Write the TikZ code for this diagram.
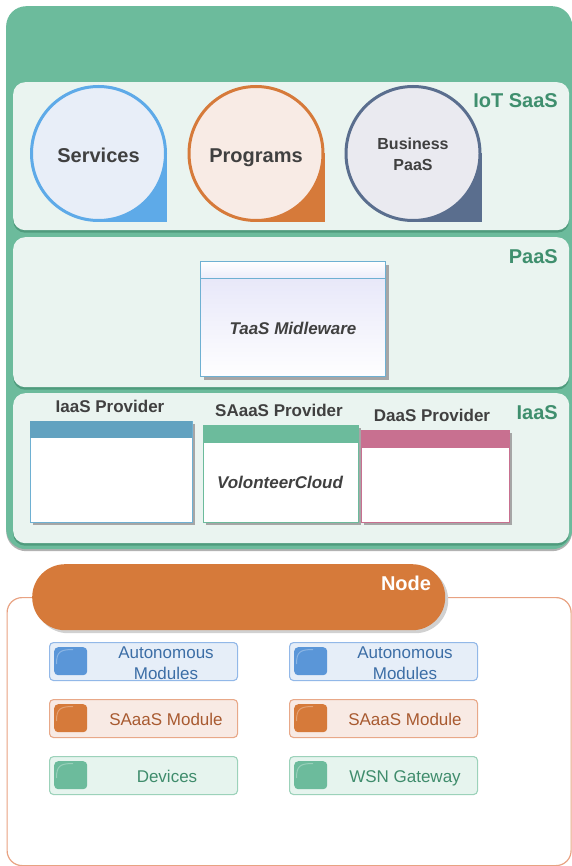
\documentclass[tikz,border=0pt]{standalone}
\usepackage{fontspec}
\setmainfont{Liberation Sans}
\usetikzlibrary{shadows}
\definecolor{outergreen}{HTML}{6CBB9C}
\definecolor{panelfill}{HTML}{EAF4F0}
\definecolor{panelshadow}{HTML}{4F9B7D}
\definecolor{labelgreen}{HTML}{3F8F6E}
\definecolor{darktext}{HTML}{404040}
\definecolor{svcfill}{HTML}{E8EEF8}
\definecolor{svcline}{HTML}{5EAAE8}
\definecolor{prgfill}{HTML}{F8EBE5}
\definecolor{prgline}{HTML}{D67A3A}
\definecolor{busfill}{HTML}{EAEAF0}
\definecolor{busline}{HTML}{5A6E8E}
\definecolor{taasline}{HTML}{6EB0D2}
\definecolor{taastop}{HTML}{E4E4F8}
\definecolor{iaashead}{HTML}{62A2C0}
\definecolor{daashead}{HTML}{C87090}
\definecolor{nodeorange}{HTML}{D67A3A}
\definecolor{nodeline}{HTML}{E8A282}
\definecolor{mbfill}{HTML}{E6EEF8}
\definecolor{mbline}{HTML}{92B8E8}
\definecolor{mbsq}{HTML}{5A96D8}
\definecolor{mbtext}{HTML}{3C6EA6}
\definecolor{mofill}{HTML}{F8EAE4}
\definecolor{moline}{HTML}{E8A888}
\definecolor{mosq}{HTML}{D67A3A}
\definecolor{motext}{HTML}{A85A30}
\definecolor{mgfill}{HTML}{E6F4EE}
\definecolor{mgline}{HTML}{9CD2BA}
\definecolor{mgsq}{HTML}{6CBB9C}
\definecolor{mgtext}{HTML}{3F8C6C}
\begin{document}
\begin{tikzpicture}[x=1pt,y=-1pt,
  panel/.style={rectangle, fill=panelfill, rounded corners=12, minimum width=556,
    anchor=north west, inner sep=0,
    drop shadow={shadow xshift=0pt, shadow yshift=-2.5pt, fill=panelshadow, opacity=1}},
  layerlabel/.style={anchor=base east, inner sep=0, text=labelgreen,
    font=\fontsize{20}{24}\selectfont\bfseries},
  bubble/.style={circle, line width=3, minimum size=134, inner sep=0},
  bubbletext/.style={anchor=base, inner sep=0, text=darktext, font=\fontsize{20}{24}\selectfont\bfseries},
  smalltext/.style={anchor=base, inner sep=0, text=darktext, font=\fontsize{16}{20}\selectfont\bfseries},
  provbox/.style={rectangle, fill=white, line width=1.4, anchor=north west, inner sep=0,
    drop shadow={shadow xshift=2pt, shadow yshift=-2pt, fill=black!35, opacity=1}},
  provhead/.style={rectangle, anchor=north west, inner sep=0},
  provlabel/.style={anchor=base, inner sep=0, text=darktext, font=\fontsize{17}{20}\selectfont\bfseries},
  italiclabel/.style={anchor=base, inner sep=0, text=darktext, font=\fontsize{17}{20}\selectfont\bfseries\itshape},
  modbox/.style={rectangle, rounded corners=4, line width=1.1, minimum width=188,
    minimum height=38, anchor=north west, inner sep=0},
  modsq/.style={rectangle, rounded corners=4, minimum width=33, minimum height=28,
    anchor=north west, inner sep=0},
  modtext/.style={inner sep=0, align=center, font=\fontsize{17}{21}\selectfont},
  modline/.style={anchor=base, inner sep=0, font=\fontsize{17}{21}\selectfont},
  gloss/.style={white, opacity=.3, line width=1}
]
\useasboundingbox (0,0) rectangle (571,866);

% ---------- cloud stack ----------
\node[rectangle, fill=outergreen, rounded corners=20, minimum width=566, minimum height=543,
  anchor=north west, inner sep=0,
  drop shadow={shadow xshift=0pt, shadow yshift=-2pt, fill=black!30, opacity=1}] (cloud) at (6,6) {};

\node[panel, minimum height=148] (iot) at (13,82) {};
\node[panel, minimum height=150] (paas) at (13,237) {};
\node[panel, minimum height=150] (iaas) at (13,393) {};

\node[layerlabel] (iotlabel) at (558,107.2) {IoT SaaS};
\node[layerlabel] (paaslabel) at (558,263.2) {PaaS};
\node[layerlabel] (iaaslabel) at (558,419.2) {IaaS};

% bubbles with square corner
\coordinate (svc) at (98.5,153.5);
\coordinate (prg) at (256,153.5);
\coordinate (bus) at (413,153.5);
\fill[svcline] (svc) rectangle ++(68.5,69);
\fill[prgline] (prg) rectangle ++(68.5,69);
\fill[busline] (bus) rectangle ++(68.5,69);
\node[bubble, draw=svcline, fill=svcfill] (services) at (svc) {};
\node[bubble, draw=prgline, fill=prgfill] (programs) at (prg) {};
\node[bubble, draw=busline, fill=busfill] (business) at (bus) {};
\node[bubbletext] (servicestext) at (98.5,162.2) {Services};
\node[bubbletext] (programstext) at (256,162.2) {Programs};
\node[smalltext] (businesstext) at (413,149.7) {Business};
\node[smalltext] (paastext) at (413,170.7) {PaaS};

% TaaS middleware
\node[rectangle, draw=taasline, line width=1.2, top color=taastop, bottom color=white!97!taastop,
  minimum width=185, minimum height=115, anchor=north west, inner sep=0,
  drop shadow={shadow xshift=3pt, shadow yshift=-3pt, fill=black!35, opacity=1}] (taas) at (200,261) {};
\node[rectangle, draw=taasline, line width=1.2, top color=white, bottom color=taastop!70,
  minimum width=185, minimum height=17, anchor=north west, inner sep=0] (taashead) at (taas.north west) {};
\node[italiclabel] (taastext) at (293,334.1) {TaaS Midleware};

% providers
\node[provbox, draw=taasline, minimum width=162, minimum height=101] (iaasbox) at (30,421) {};
\node[provhead, fill=iaashead, minimum width=162, minimum height=17] (iaashd) at (iaasbox.north west) {};
\node[provlabel] (iaasprov) at (110,412.1) {IaaS Provider};

\node[provbox, draw=outergreen, minimum width=155, minimum height=97] (saasbox) at (203,425) {};
\node[provhead, fill=outergreen, minimum width=155, minimum height=18] (saashd) at (saasbox.north west) {};
\node[provlabel] (saasprov) at (279,416.1) {SAaaS Provider};
\node[italiclabel] (volcloud) at (280,488.1) {VolonteerCloud};

\node[provbox, draw=daashead, minimum width=148, minimum height=92] (daasbox) at (361,430) {};
\node[provhead, fill=daashead, minimum width=148, minimum height=18] (daashd) at (daasbox.north west) {};
\node[provlabel] (daasprov) at (432,421.1) {DaaS Provider};

% ---------- node ----------
\node[rectangle, draw=nodeline, line width=1.2, fill=white, rounded corners=15,
  minimum width=564, minimum height=268, anchor=north west, inner sep=0] (nodebox) at (6.5,597) {};
\node[rectangle, fill=nodeorange, rounded corners=32.9, minimum width=413, minimum height=66,
  anchor=north west, inner sep=0,
  drop shadow={shadow xshift=3pt, shadow yshift=-3pt, fill=black!18, opacity=1}] (nodepill) at (32,564) {};
\node[anchor=base, inner sep=0, text=white, font=\fontsize{20}{24}\selectfont\bfseries] (nodetext) at (406,590.2) {Node};

% modules
\node[modbox, draw=mbline, fill=mbfill] (am1) at (49,642) {};
\node[modsq, fill=mbsq] (am1sq) at (54,647) {};
\node[modtext, text=mbtext] (am1t) at (166,663) {Autonomous\\Modules};
\node[modbox, draw=mbline, fill=mbfill] (am2) at (289,642) {};
\node[modsq, fill=mbsq] (am2sq) at (294,647) {};
\node[modtext, text=mbtext] (am2t) at (405,663) {Autonomous\\Modules};

\node[modbox, draw=moline, fill=mofill] (sm1) at (49,699) {};
\node[modsq, fill=mosq] (sm1sq) at (54,704) {};
\node[modline, text=motext] (sm1t) at (166,725.1) {SAaaS Module};
\node[modbox, draw=moline, fill=mofill] (sm2) at (289,699) {};
\node[modsq, fill=mosq] (sm2sq) at (294,704) {};
\node[modline, text=motext] (sm2t) at (405,725.1) {SAaaS Module};

\node[modbox, draw=mgline, fill=mgfill] (dv1) at (49,756) {};
\node[modsq, fill=mgsq] (dv1sq) at (54,761) {};
\node[modline, text=mgtext] (dv1t) at (167,782.1) {Devices};
\node[modbox, draw=mgline, fill=mgfill] (wg2) at (289,756) {};
\node[modsq, fill=mgsq] (wg2sq) at (294,761) {};
\node[modline, text=mgtext] (wg2t) at (405,782.1) {WSN Gateway};

\foreach \sx/\sy in {54/647, 294/647, 54/704, 294/704, 54/761, 294/761}
  \draw[gloss] ({\sx+2.5},{\sy+17}) .. controls ({\sx+2.5},{\sy+5}) and ({\sx+6},{\sy+2.5}) .. ({\sx+19},{\sy+2.5});
\end{tikzpicture}
\end{document}
